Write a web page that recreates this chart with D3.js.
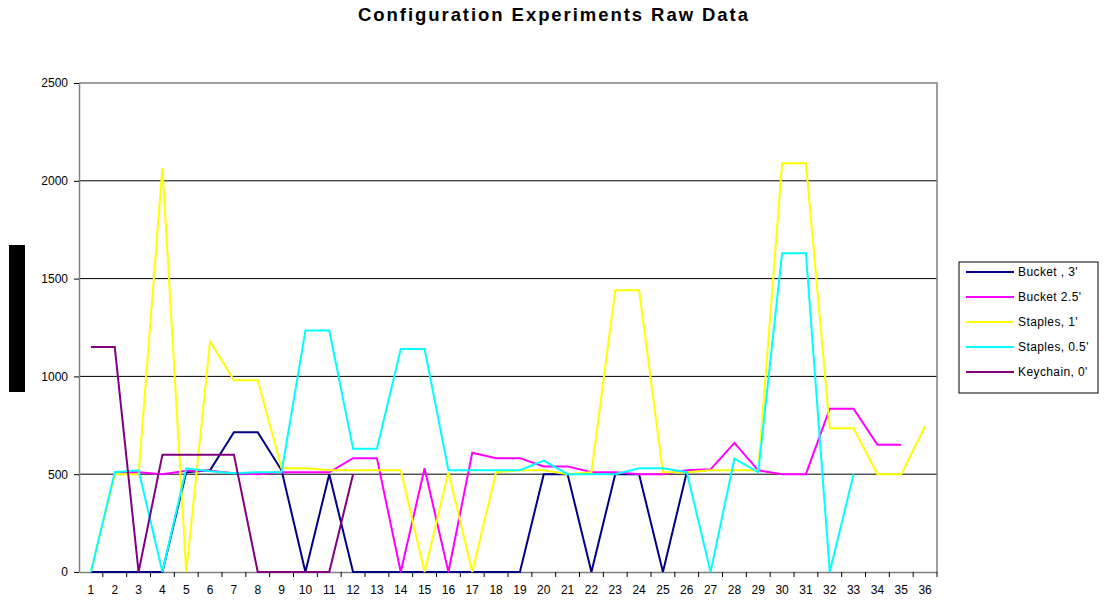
<!DOCTYPE html>
<html>
<head>
<meta charset="utf-8">
<script src="https://cdn.jsdelivr.net/npm/d3@7"></script>
<style>
	body { margin: 0; background: #fff; }
	svg { font-family: 'Liberation Sans', Arial, sans-serif; }
	.tick text { font-size: 12px; fill: #000; }
	.legend-text { font-size: 12px; letter-spacing: 0.4px; }
</style>
</head>
<body>
<svg id="chart-svg" width="1104" height="606"></svg>
<script>
const PADDING = { top: 83, bottom: 34, left: 79, right: 167 };

// category labels 1..36
const categories = ['1','2','3','4','5','6','7','8','9','10','11','12','13','14','15','16','17','18',
	'19','20','21','22','23','24','25','26','27','28','29','30','31','32','33','34','35','36'];
const yTicks = [0, 500, 1000, 1500, 2000, 2500];

const seriesNames = ["Bucket , 3'", "Bucket 2.5'", "Staples, 1'", "Staples, 0.5'", "Keychain, 0'"];
const seriesColors = ['#000080', '#ff00ff', '#ffff00', '#00ffff', '#800080'];

// null = no value
const bucket3 = [0, 0, 0, 0, 510, 520, 714, 714, 520, 0, 500, 0, 0, 0, 0, 0, 0, 0, 0, 500, 500, 0, 500, 500, 0, 510];
const bucket25 = [null, 510, 510, 500, 518, 518, 505, 500, 510, 510, 510, 582, 582, 0, 530, 0, 610, 582, 582, 540, 540,
	510, 510, 500, 500, 520, 525, 660, 520, 500, 500, 835, 835, 650, 650];
const staples1 = [0, 500, 500, 2065, 0, 1180, 980, 980, 530, 530, 520, 520, 520, 520, 0, 510, 0, 510, 520, 520, 500,
	510, 1440, 1440, 510, 510, 520, 520, 520, 2090, 2090, 735, 735, 500, 500, 745];
const staples05 = [0, 510, 520, 0, 530, 515, 505, 510, 510, 1235, 1235, 630, 630, 1140, 1140, 520, 520, 520, 520, 570,
	500, 500, 500, 530, 530, 510, 0, 580, 510, 1630, 1630, 0, 500];
const keychain0 = [1150, 1150, 0, 600, 600, 600, 600, 0, 0, 0, 0, 500];

const seriesData = [bucket3, bucket25, staples1, staples05, keychain0];

let svg = d3.select('#chart-svg');
const svgWidth = 1104;
const svgHeight = 606;

const xScale = d3.scaleBand().domain(categories).range([PADDING.left, svgWidth - PADDING.right]);
const yScale = d3.scaleLinear().domain([0, 2500]).range([svgHeight - PADDING.bottom, PADDING.top]);
const plotBottom = yScale(0);
const plotRight = svgWidth - PADDING.right;

// title
svg.append('text')
	.attr('x', 553)
	.attr('y', 21)
	.attr('text-anchor', 'middle')
	.attr('font-size', 18.5)
	.attr('font-weight', 'bold')
	.attr('textLength', 390)
	.attr('lengthAdjust', 'spacing')
	.text('Configuration Experiments Raw Data');

// gridlines
svg.append('g')
	.selectAll('line')
	.data(yTicks.filter((d) => d > 0 && d < 2500))
	.enter()
	.append('line')
	.attr('x1', PADDING.left)
	.attr('x2', plotRight)
	.attr('y1', (d) => yScale(d))
	.attr('y2', (d) => yScale(d))
	.attr('stroke', '#000')
	.attr('stroke-width', 1);

// plot border (top / right)
svg.append('path')
	.attr('d', `M${PADDING.left},${yScale(2500)}H${plotRight}V${plotBottom}`)
	.attr('fill', 'none')
	.attr('stroke', '#808080')
	.attr('stroke-width', 1.5);

// axes
const yAxis = d3.axisLeft(yScale).tickValues(yTicks).tickFormat(d3.format('d')).tickSize(5).tickPadding(6).tickSizeOuter(0);
let yG = svg.append('g').attr('transform', 'translate(' + PADDING.left + ',0)').call(yAxis);
yG.select('.domain').attr('stroke', '#808080').attr('stroke-width', 1.5);
yG.selectAll('.tick line').attr('stroke', '#000');

const xAxis = d3.axisBottom(xScale).tickSize(0).tickPadding(13).tickSizeOuter(0);
let xG = svg.append('g').attr('transform', 'translate(0,' + plotBottom + ')').call(xAxis);
xG.select('.domain').attr('stroke', '#808080').attr('stroke-width', 1.5);
// tick marks between categories
xG.selectAll('.sep')
	.data(categories)
	.enter()
	.append('line')
	.attr('x1', (d) => xScale(d) + xScale.bandwidth())
	.attr('x2', (d) => xScale(d) + xScale.bandwidth())
	.attr('y1', 0)
	.attr('y2', 5)
	.attr('stroke', '#000');

// series lines
const line = d3.line()
	.defined((d) => d != null)
	.x((d, i) => xScale(categories[i]) + xScale.bandwidth() / 2)
	.y((d) => yScale(d));

seriesData.forEach((data, k) => {
	svg.append('path')
		.datum(data)
		.attr('fill', 'none')
		.attr('stroke', seriesColors[k])
		.attr('stroke-width', 2)
		.attr('stroke-linejoin', 'miter')
		.attr('d', line);
});

// redacted axis title block
svg.append('rect').attr('x', 9).attr('y', 245).attr('width', 16).attr('height', 147).attr('fill', '#000');

// legend
let legendG = svg.append('g').attr('transform', 'translate(959, 262)');
legendG.append('rect')
	.attr('width', 139)
	.attr('height', 131)
	.attr('fill', '#fff')
	.attr('stroke', '#000')
	.attr('stroke-width', 1);
seriesNames.forEach((name, k) => {
	legendG.append('line')
		.attr('x1', 7)
		.attr('x2', 55)
		.attr('y1', 10 + k * 25)
		.attr('y2', 10 + k * 25)
		.attr('stroke', seriesColors[k])
		.attr('stroke-width', 2);
	legendG.append('text')
		.attr('class', 'legend-text')
		.attr('x', 59)
		.attr('y', 14 + k * 25)
		.text(name);
});
</script>
</body>
</html>
